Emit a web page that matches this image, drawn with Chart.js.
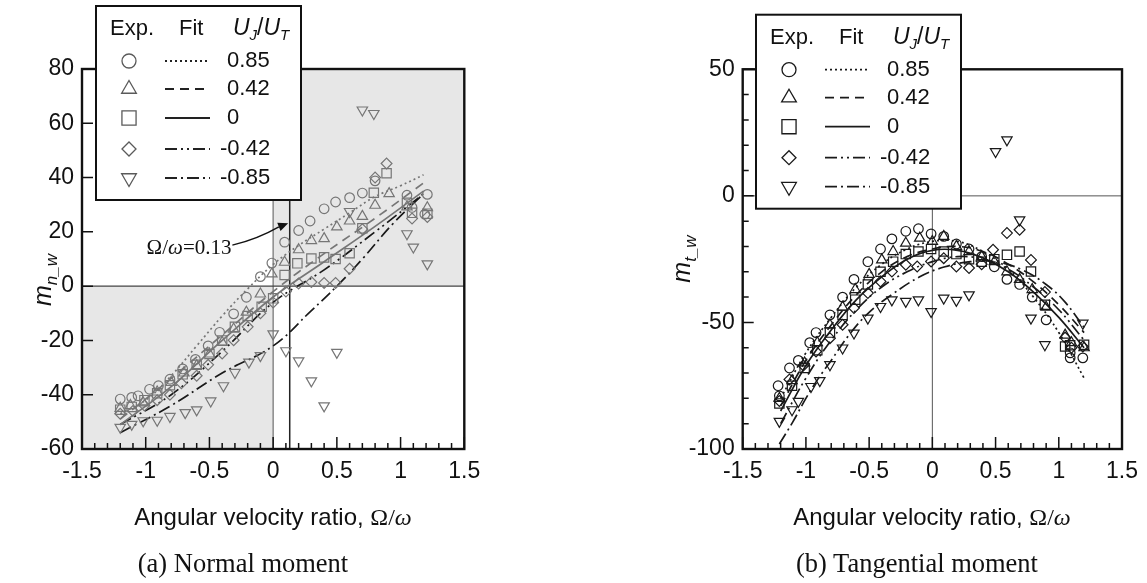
<!DOCTYPE html>
<html>
<head>
<meta charset="utf-8">
<script src="https://cdn.jsdelivr.net/npm/chart.js@4.4.1/dist/chart.umd.min.js"></script>
<style>
  body { margin: 0; background: #fff; width: 1147px; height: 583px; overflow: hidden; position: relative;
         font-family: 'Liberation Sans', Arial, sans-serif; color: #111; }
  canvas { position: absolute; top: 0; }
  #chartNormal { left: 0; }
  #chartTangent { left: 573px; }
  .xt { position: absolute; width: 400px; text-align: center; font-size: 24px; line-height: 28px; white-space: nowrap; }
  .cap { position: absolute; width: 400px; text-align: center; font-family: 'Liberation Serif', 'Times New Roman', serif;
         font-size: 26.5px; line-height: 30px; }
  .yt { position: absolute; width: 90px; height: 30px; line-height: 30px; text-align: center;
        transform: rotate(-90deg); font-size: 25px; white-space: nowrap; }
  .yt sub { font-size: 17px; vertical-align: -6px; }
  .sf { font-family: 'Liberation Serif', 'Times New Roman', serif; }
</style>
</head>
<body>
<canvas id="chartNormal" width="573" height="583"></canvas>
<canvas id="chartTangent" width="574" height="583"></canvas>

<div class="yt" style="left:-3px; top:265px;"><i>m</i><sub><i>n_w</i></sub></div>
<div class="yt" style="left:636px; top:244px;"><i>m</i><sub><i>t_w</i></sub></div>
<div class="xt" style="left:73px; top:503px;">Angular velocity ratio, <span class="sf">Ω/<i>ω</i></span></div>
<div class="xt" style="left:732px; top:503px;">Angular velocity ratio, <span class="sf">Ω/<i>ω</i></span></div>
<div class="cap" style="left:43px; top:548px;">(a) Normal moment</div>
<div class="cap" style="left:717px; top:548px;">(b) Tangential moment</div>

<script>
// U_J/U_T values shown in the legends
const ratioLabels = ['0.85', '0.42', '0', '-0.42', '-0.85'];

// (a) normal moment, experiment  [omega ratio, m_n_w]
const normExp085 = [[-1.2,-41.6],[-1.11,-41],[-1.06,-40.4],[-0.97,-38],[-0.9,-36.7],[-0.81,-34.3],[-0.71,-30.5],
  [-0.61,-27],[-0.51,-22],[-0.42,-17],[-0.31,-10.2],[-0.21,-4.1],[-0.1,3.5],[-0.01,8.5],[0.09,16.2],[0.2,20.5],
  [0.29,24],[0.4,28.5],[0.49,31],[0.6,32.6],[0.7,34.3],[0.8,38.8],[1.05,33.5],[1.09,29],[1.21,33.8],[1.19,26.5]];
const normExp042 = [[-1.2,-45],[-1.12,-44],[-1.02,-43],[-0.91,-39],[-0.8,-35.5],[-0.7,-32],[-0.6,-29.3],[-0.5,-25],
  [-0.4,-20.7],[-0.31,-15.8],[-0.21,-9.6],[-0.1,-2.9],[-0.01,4.5],[0.09,8.8],[0.2,13.4],[0.3,16.8],[0.4,17.5],
  [0.5,21.8],[0.6,24],[0.7,25.7],[0.8,29.8],[0.91,34.1],[1.05,29.2],[1.21,28.9]];
const normExp0 = [[-1.2,-45.5],[-1.11,-44.5],[-1.01,-42],[-0.91,-39.5],[-0.81,-36.5],[-0.71,-32.5],[-0.6,-29],
  [-0.5,-25],[-0.4,-20],[-0.3,-15],[-0.2,-11],[-0.09,-7.6],[0,-4.5],[0.09,4.1],[0.19,8.4],[0.3,10.2],[0.4,10.6],
  [0.49,10],[0.6,12.1],[0.7,21.3],[0.79,34.4],[0.89,41.6],[1.05,30.7],[1.09,27],[1.21,26.7]];
const normExpM042 = [[-1.2,-47],[-1.1,-46],[-1.01,-44],[-0.91,-42],[-0.81,-40],[-0.72,-35.8],[-0.6,-33],[-0.51,-29],
  [-0.4,-24.8],[-0.31,-19.9],[-0.2,-15],[-0.1,-10],[0,-6],[0.1,-2],[0.2,1],[0.3,1.5],[0.4,1.2],[0.49,1.2],
  [0.6,6.4],[0.7,21],[0.8,40],[0.89,45.2],[1.09,24.9],[1.21,25.5]];
const normExpM085 = [[-1.2,-52],[-1.11,-50.9],[-1.02,-49.6],[-0.91,-49.4],[-0.81,-48],[-0.69,-46.6],[-0.6,-45.6],
  [-0.49,-42.3],[-0.39,-36.7],[-0.3,-31.8],[-0.19,-28],[-0.1,-25.6],[0,-17.6],[0.1,-23.8],[0.2,-27.5],[0.3,-34.9],
  [0.4,-44.1],[0.5,-24.4],[0.6,27.5],[0.7,64.9],[0.79,63.6],[1.05,19.3],[1.1,14.4],[1.21,8.2]];

// (a) normal moment, fitted curves
const normFit085 = [[-1.2,-47],[-1.0,-42],[-0.8,-33],[-0.6,-22],[-0.4,-11],[-0.2,-1],[0,8],[0.2,15],[0.4,21],
  [0.6,27],[0.8,33],[1.0,37],[1.18,41]];
const normFit042 = [[-1.2,-49],[-0.8,-34],[-0.4,-18],[0,-2],[0.4,12],[0.8,25],[1.18,38]];
const normFit0 = [[-1.2,-51],[-0.8,-37],[-0.4,-20],[0,-4],[0.4,9],[0.8,22],[1.18,35]];
const normFitM042 = [[-1.2,-51],[-0.8,-40],[-0.4,-24],[0,-6],[0.4,6],[0.8,20],[1.18,34]];
const normFitM085 = [[-1.2,-54],[-0.8,-44],[-0.4,-32],[0,-22],[0.3,-9],[0.5,0],[0.7,10],[0.94,23],[1.18,34]];

// (b) tangential moment, experiment  [omega ratio, m_t_w]
const tanExp085 = [[-1.22,-75],[-1.21,-79],[-1.13,-68],[-1.06,-65],[-0.97,-58],[-0.92,-54],[-0.81,-47],[-0.71,-40],
  [-0.62,-33],[-0.51,-26],[-0.41,-21],[-0.32,-17],[-0.21,-14],[-0.11,-13],[-0.01,-15],[0.09,-16],[0.19,-19],
  [0.29,-21],[0.39,-24],[0.49,-28],[0.59,-33],[0.69,-35],[0.79,-40],[0.9,-49],[1.09,-62],[1.09,-64],[1.19,-64]];
const tanExp042 = [[-1.21,-80],[-1.11,-73],[-1.01,-66],[-0.91,-58],[-0.81,-51],[-0.71,-44],[-0.61,-37],[-0.5,-31],
  [-0.4,-25.3],[-0.31,-22],[-0.21,-18.7],[-0.1,-16.7],[0,-18],[0.09,-16],[0.19,-20],[0.29,-22],[0.39,-24],
  [0.49,-26],[0.59,-30],[0.69,-33],[0.79,-37],[0.9,-44],[1.05,-55],[1.1,-58],[1.2,-60]];
const tanExp0 = [[-1.21,-82],[-1.11,-75],[-1.01,-68],[-0.91,-61],[-0.81,-54],[-0.71,-47],[-0.61,-41],[-0.51,-35],
  [-0.41,-30],[-0.31,-26],[-0.21,-23],[-0.11,-22],[-0.01,-21],[0.09,-22],[0.19,-23],[0.29,-25],[0.39,-26],
  [0.49,-25],[0.59,-23.3],[0.69,-22],[0.78,-29.9],[0.89,-43],[1.05,-59.5],[1.09,-59],[1.2,-58.8]];
const tanExpM042 = [[-1.21,-81],[-1.13,-72.5],[-1.02,-67],[-0.92,-61.5],[-0.81,-56.2],[-0.71,-50.9],[-0.62,-44.3],
  [-0.51,-38.4],[-0.41,-33.8],[-0.32,-29.9],[-0.21,-27.2],[-0.12,-27.9],[-0.01,-25.9],[0.09,-24.6],[0.19,-27.9],
  [0.29,-28.5],[0.39,-27],[0.48,-21.3],[0.59,-14.7],[0.69,-13.4],[0.78,-25.3],[0.89,-38],[1.05,-56],[1.1,-60],[1.19,-59.5]];
const tanExpM085 = [[-1.21,-89.1],[-1.11,-84.5],[-1.06,-81.2],[-0.96,-75.3],[-0.89,-73],[-0.81,-66.7],[-0.71,-60.1],
  [-0.62,-54.2],[-0.51,-48.3],[-0.41,-43.7],[-0.32,-41.1],[-0.21,-41.7],[-0.11,-41.1],[-0.01,-45.7],[0.09,-40.4],
  [0.19,-41.3],[0.29,-39.1],[0.5,17.5],[0.59,22.1],[0.69,-9.5],[0.78,-48.3],[0.89,-58.8],[1.19,-50.3]];

// (b) tangential moment, fitted curves
const tanFit085 = [[-1.2,-80],[-1.0,-62],[-0.8,-48],[-0.6,-36],[-0.4,-27],[-0.2,-21],[0,-18],[0.2,-18],[0.4,-22],
  [0.6,-29],[0.8,-40],[1.0,-54],[1.2,-72]];
const tanFit042 = [[-1.2,-83],[-1.0,-65],[-0.8,-51],[-0.6,-39],[-0.4,-30],[-0.2,-24],[0,-21],[0.2,-20],[0.4,-22],
  [0.6,-27],[0.8,-34],[1.0,-43],[1.2,-54]];
const tanFit0 = [[-1.2,-85],[-1.0,-67],[-0.8,-53],[-0.6,-41],[-0.4,-32],[-0.2,-25],[0,-21.5],[0.2,-21.5],[0.4,-24.5],
  [0.6,-30],[0.8,-38],[1.0,-48],[1.2,-60]];
const tanFitM042 = [[-1.2,-90],[-1.0,-72],[-0.8,-57],[-0.6,-45],[-0.4,-36],[-0.2,-30],[0,-26],[0.2,-24],[0.4,-25],
  [0.6,-29],[0.8,-36],[1.0,-45],[1.2,-57]];
const tanFitM085 = [[-1.21,-98],[-1.1,-89],[-1.0,-80],[-0.9,-72],[-0.8,-65],[-0.66,-55],[-0.5,-46],[-0.32,-39],
  [-0.1,-32],[0.1,-28],[0.3,-26],[0.5,-26],[0.7,-29],[0.9,-35],[1.05,-42],[1.2,-52]];

// annotation in panel (a): text centre, arrow tail, arrow head (data units)
const noteAt = [-0.66, 14.0];
const arrowFrom = [-0.32, 15.1];
const arrowTo = [0.118, 23.2];

const SANS = "'Liberation Sans', Arial, sans-serif";
const SERIF = "'Liberation Serif', 'Times New Roman', serif";

// marker styles, plot radius, legend radius, line dashes, per U_J/U_T row
const markStyles = ['circle', 'triangle', 'rect', 'rectRot', 'triangle'];
const markRot = [0, 0, 0, 0, 180];
const markRadius = [4.8, 6, 6.6, 5.4, 6];
const legendRadius = [7, 8.5, 10, 7, 8.5];
const fitDashes = [[2, 3], [9, 6], [], [12, 4, 2, 4, 2, 4], [12, 4, 2, 4]];

const toXY = arr => arr.map(([x, y]) => ({ x, y }));

function markerSet(points, i, color) {
  return {
    data: toXY(points), showLine: false,
    pointStyle: markStyles[i], pointRotation: markRot[i], pointRadius: markRadius[i],
    pointBorderWidth: 1.2, pointBorderColor: color, pointBackgroundColor: 'rgba(0,0,0,0)'
  };
}

function fitSet(points, i, color) {
  return {
    data: toXY(points), showLine: true, pointRadius: 0, fill: false,
    borderColor: color, borderWidth: 1.7, borderDash: fitDashes[i], tension: 0.4
  };
}

function drawMark(ctx, i, r, x, y) {
  const opt = { pointStyle: markStyles[i], rotation: markRot[i], radius: r, borderWidth: 1.3 };
  if (Chart.helpers && Chart.helpers.drawPoint) {
    Chart.helpers.drawPoint(ctx, opt, x, y);
  } else {
    ctx.beginPath(); ctx.arc(x, y, r, 0, Math.PI * 2); ctx.stroke();
  }
}

function drawLegend(ctx, bx, by, markColor, lineColor) {
  ctx.save();
  ctx.fillStyle = '#fff';
  ctx.fillRect(bx, by, 205, 194);
  ctx.lineWidth = 2;
  ctx.strokeStyle = '#111';
  ctx.strokeRect(bx, by, 205, 194);

  ctx.fillStyle = '#111';
  ctx.textBaseline = 'middle';
  ctx.textAlign = 'left';
  ctx.font = '22px ' + SANS;
  ctx.fillText('Exp.', bx + 14, by + 23);
  ctx.fillText('Fit', bx + 83, by + 23);
  let cx = bx + 137;
  const put = (t, font, dy) => { ctx.font = font; ctx.fillText(t, cx, by + 23 + dy); cx += ctx.measureText(t).width; };
  put('U', 'italic 23px ' + SANS, 0);
  put('J', 'italic 15px ' + SANS, 7);
  put('/', '23px ' + SANS, 0);
  put('U', 'italic 23px ' + SANS, 0);
  put('T', 'italic 15px ' + SANS, 7);

  const rows = [55, 83, 112, 143, 172];
  ratioLabels.forEach((lab, i) => {
    const ry = by + rows[i];
    ctx.fillStyle = 'rgba(0,0,0,0)';
    ctx.strokeStyle = markColor;
    ctx.lineWidth = 1.3;
    ctx.setLineDash([]);
    drawMark(ctx, i, legendRadius[i], bx + 33, ry);

    ctx.strokeStyle = lineColor;
    ctx.lineWidth = 1.8;
    ctx.setLineDash(fitDashes[i]);
    ctx.beginPath();
    ctx.moveTo(bx + 69, ry);
    ctx.lineTo(bx + 114, ry);
    ctx.stroke();
    ctx.setLineDash([]);

    ctx.fillStyle = '#111';
    ctx.font = '22px ' + SANS;
    ctx.fillText(lab, bx + (lab.startsWith('-') ? 124 : 131), ry);
  });
  ctx.restore();
}

function drawNote(ctx, sx, sy) {
  ctx.save();
  const tx = sx.getPixelForValue(noteAt[0]);
  const ty = sy.getPixelForValue(noteAt[1]);
  const parts = [['Ω/', '21px ' + SERIF], ['ω', 'italic 21px ' + SERIF], ['=0.13', '21px ' + SERIF]];
  let w = 0;
  parts.forEach(([t, f]) => { ctx.font = f; w += ctx.measureText(t).width; });
  let cx = tx - w / 2;
  ctx.fillStyle = '#111';
  ctx.textBaseline = 'middle';
  parts.forEach(([t, f]) => { ctx.font = f; ctx.fillText(t, cx, ty); cx += ctx.measureText(t).width; });

  const x0 = sx.getPixelForValue(arrowFrom[0]), y0 = sy.getPixelForValue(arrowFrom[1]);
  const x1 = sx.getPixelForValue(arrowTo[0]), y1 = sy.getPixelForValue(arrowTo[1]);
  const ang = Math.atan2(y1 - y0, x1 - x0);
  const hx = x1 - Math.cos(ang) * 10, hy = y1 - Math.sin(ang) * 10;
  ctx.strokeStyle = '#111';
  ctx.lineWidth = 1.4;
  ctx.beginPath();
  ctx.moveTo(x0, y0);
  ctx.quadraticCurveTo((x0 + hx) / 2 + 2, (y0 + hy) / 2 + 3, hx, hy);
  ctx.stroke();
  ctx.fillStyle = '#111';
  ctx.beginPath();
  ctx.moveTo(x1, y1);
  ctx.lineTo(hx + Math.sin(ang) * 4.5, hy - Math.cos(ang) * 4.5);
  ctx.lineTo(hx - Math.sin(ang) * 4.5, hy + Math.cos(ang) * 4.5);
  ctx.closePath();
  ctx.fill();
  ctx.restore();
}

const panelDecor = {
  id: 'panelDecor',
  beforeDatasetsDraw(chart, args, o) {
    const { ctx, chartArea: a, scales: { x, y } } = chart;
    ctx.save();
    ctx.beginPath();
    ctx.rect(a.left, a.top, a.width, a.height);
    ctx.clip();
    if (o.shade) {
      ctx.fillStyle = '#e7e7e7';
      const x0 = x.getPixelForValue(0), y0 = y.getPixelForValue(0);
      ctx.fillRect(x0, a.top, a.right - x0, y0 - a.top);
      ctx.fillRect(a.left, y0, x0 - a.left, a.bottom - y0);
    }
    o.vlines.forEach(l => {
      const px = x.getPixelForValue(l.v);
      ctx.strokeStyle = l.c; ctx.lineWidth = l.w;
      ctx.beginPath(); ctx.moveTo(px, a.top); ctx.lineTo(px, a.bottom); ctx.stroke();
    });
    o.hlines.forEach(l => {
      const py = y.getPixelForValue(l.v);
      ctx.strokeStyle = l.c; ctx.lineWidth = l.w;
      ctx.beginPath(); ctx.moveTo(a.left, py); ctx.lineTo(a.right, py); ctx.stroke();
    });
    ctx.restore();
  },
  afterDatasetsDraw(chart, args, o) {
    const { ctx, chartArea: a, scales: { x, y } } = chart;
    ctx.save();
    ctx.strokeStyle = '#111';
    ctx.lineWidth = 1.5;
    ctx.beginPath();
    for (let i = -15; i <= 15; i++) {
      const px = x.getPixelForValue(i / 10);
      const len = i % 5 === 0 ? 12 : 6;
      ctx.moveTo(px, a.bottom); ctx.lineTo(px, a.bottom - len);
    }
    for (let v = y.min; v <= y.max; v += o.yMinor) {
      const py = y.getPixelForValue(v);
      const len = v % o.yMajor === 0 ? 11 : 6;
      ctx.moveTo(a.left, py); ctx.lineTo(a.left + len, py);
    }
    ctx.stroke();
    ctx.lineWidth = 2.4;
    ctx.strokeRect(a.left, a.top, a.width, a.height);
    ctx.restore();
    if (o.note) drawNote(ctx, x, y);
    drawLegend(ctx, o.legendX, o.legendY, o.markColor, o.lineColor);
  }
};

function makeChart(id, datasets, c) {
  return new Chart(document.getElementById(id), {
    type: 'scatter',
    data: { datasets },
    options: {
      responsive: false,
      animation: false,
      events: [],
      layout: { padding: { left: 0, top: c.top, right: c.right, bottom: 0 } },
      plugins: { legend: { display: false }, tooltip: { enabled: false }, panelDecor: c.decor },
      scales: {
        x: {
          type: 'linear', min: -1.5, max: 1.5,
          afterFit: s => { s.height = 134; },
          grid: { display: false, drawTicks: false }, border: { display: false },
          ticks: { stepSize: 0.5, padding: 9, autoSkip: false, maxRotation: 0, color: '#111',
                   font: { family: SANS, size: 23 }, callback: v => String(Math.round(v * 10) / 10) }
        },
        y: {
          type: 'linear', min: c.yMin, max: c.yMax,
          afterFit: s => { s.width = c.yWidth; },
          grid: { display: false, drawTicks: false }, border: { display: false },
          ticks: { stepSize: c.yStep, padding: 8, autoSkip: false, color: '#111',
                   font: { family: SANS, size: 23 }, callback: v => String(v) }
        }
      }
    },
    plugins: [panelDecor]
  });
}

const GRAY = '#767676', DARK = '#1a1a1a';

makeChart('chartNormal', [
  markerSet(normExp085, 0, GRAY), markerSet(normExp042, 1, GRAY), markerSet(normExp0, 2, GRAY),
  markerSet(normExpM042, 3, GRAY), markerSet(normExpM085, 4, GRAY),
  fitSet(normFit085, 0, GRAY), fitSet(normFit042, 1, GRAY), fitSet(normFit0, 2, GRAY),
  fitSet(normFitM042, 3, DARK), fitSet(normFitM085, 4, DARK)
], {
  top: 69, right: 108.7, yWidth: 82, yMin: -60, yMax: 80, yStep: 20,
  decor: {
    shade: true, yMajor: 20, yMinor: 20, note: true,
    vlines: [{ v: 0, c: '#8a8a8a', w: 1.5 }, { v: 0.13, c: '#222', w: 1.5 }],
    hlines: [{ v: 0, c: '#444', w: 1.2 }],
    legendX: 96, legendY: 6, markColor: '#5a5a5a', lineColor: '#222'
  }
});

makeChart('chartTangent', [
  markerSet(tanExp085, 0, DARK), markerSet(tanExp042, 1, DARK), markerSet(tanExp0, 2, DARK),
  markerSet(tanExpM042, 3, DARK), markerSet(tanExpM085, 4, DARK),
  fitSet(tanFit085, 0, DARK), fitSet(tanFit042, 1, DARK), fitSet(tanFit0, 2, DARK),
  fitSet(tanFitM042, 3, DARK), fitSet(tanFitM085, 4, DARK)
], {
  top: 69.3, right: 22.7, yWidth: 169.7, yMin: -100, yMax: 50, yStep: 50,
  decor: {
    shade: false, yMajor: 50, yMinor: 10, note: false,
    vlines: [{ v: 0, c: '#555', w: 1 }],
    hlines: [{ v: 0, c: '#555', w: 1 }],
    legendX: 183, legendY: 14.7, markColor: '#1a1a1a', lineColor: '#1a1a1a'
  }
});
</script>
</body>
</html>
